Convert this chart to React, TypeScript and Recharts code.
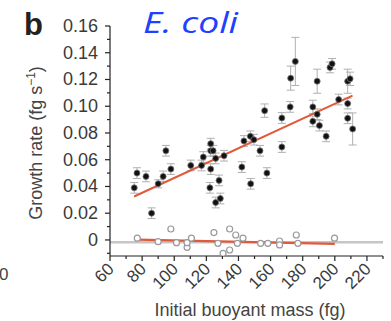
import React from "react";
import {
  ComposedChart,
  Scatter,
  Line,
  XAxis,
  YAxis,
  ErrorBar,
  ReferenceLine,
} from "recharts";

// E. coli growth rate vs initial buoyant mass
const cellMass = [
  75.1, 76.8, 82.4, 85.9, 90.0, 93.1, 94.8, 97.9, 110.3, 117.0, 118.1, 122.2,
  122.7, 122.7, 124.2, 122.7, 125.8, 131.0, 127.9, 125.8, 128.7, 142.1, 143.4,
  147.4, 149.6, 147.6, 153.4, 157.7, 167.0, 156.3, 167.0, 172.2, 172.5, 175.4,
  186.3, 186.3, 189.0, 189.0, 190.4, 194.6, 197.0, 198.3, 202.4, 208.0, 209.5,
  208.0, 208.0, 211.1,
];
const cellRate = [
  0.039, 0.05, 0.0475, 0.02, 0.042, 0.0475, 0.0667, 0.053, 0.0557, 0.0557,
  0.062, 0.039, 0.072, 0.0667, 0.0667, 0.053, 0.061, 0.063, 0.0445, 0.028,
  0.031, 0.0545, 0.074, 0.0775, 0.075, 0.042, 0.0667, 0.05, 0.0695, 0.0967,
  0.0912, 0.0995, 0.121, 0.1335, 0.0995, 0.0887, 0.094, 0.1187, 0.0855, 0.0775,
  0.129, 0.1317, 0.105, 0.1187, 0.1205, 0.102, 0.091, 0.083,
];
const cellErr = [
  0.004, 0.004, 0.004, 0.004, 0.003, 0.004, 0.004, 0.004, 0.004, 0.004, 0.004,
  0.004, 0.004, 0.004, 0.004, 0.004, 0.004, 0.004, 0.004, 0.004, 0.004, 0.004,
  0.004, 0.004, 0.004, 0.004, 0.004, 0.004, 0.004, 0.005, 0.004, 0.004, 0.009,
  0.018, 0.005, 0.004, 0.004, 0.009, 0.004, 0.004, 0.004, 0.004, 0.004, 0.009,
  0.005, 0.004, 0.004, 0.012,
];

// fixed cells (control)
const ctrlMass = [
  77, 90, 97.9, 101.4, 108, 108, 110.7, 124.7, 127.2, 130.4, 134.5, 134.5,
  138.3, 139.3, 142.8, 153.8, 158.3, 165.6, 165.6, 176, 177, 199.8,
];
const ctrlRate = [
  0.0013, -0.0013, 0.0082, -0.002, -0.0055, -0.002, 0.0013, 0.0055, -0.0025,
  -0.01, -0.0075, 0.0082, 0.0037, -0.0025, 0.0013, -0.0025, -0.0025, -0.0008,
  -0.0037, 0.0037, -0.0025, 0.0013,
];

const fitMass = [75, 211];
const fitRate = [0.0325, 0.108];
const ctrlFitMass = [77, 200];
const ctrlFitRate = [0.0003, -0.003];

const xTicks = [60, 70, 80, 90, 100, 110, 120, 130, 140, 150, 160, 170, 180, 190, 200, 210, 220, 230];
const yTicks = [-0.01, 0, 0.01, 0.02, 0.03, 0.04, 0.05, 0.06, 0.07, 0.08, 0.09, 0.1, 0.11, 0.12, 0.13, 0.14, 0.15, 0.16];

const cells = cellMass.map((m, i) => ({ mass: m, rate: cellRate[i], err: cellErr[i] }));
const ctrl = ctrlMass.map((m, i) => ({ mass: m, rate: ctrlRate[i] }));
const fit = fitMass.map((m, i) => ({ mass: m, rate: fitRate[i] }));
const ctrlFit = ctrlFitMass.map((m, i) => ({ mass: m, rate: ctrlFitRate[i] }));

const font = "'Liberation Sans', Arial, sans-serif";
const tickColor = "#3a3a3a";

const XTick = (props: any) => {
  const { x, y, payload } = props;
  const v = payload.value;
  const major = v % 20 === 0 && v <= 220;
  return (
    <g>
      <line x1={x} x2={x} y1={y} y2={y + (major ? 5 : 3)} stroke="#222" strokeWidth={1.2} />
      {major && (
        <text
          x={x + 5}
          y={y + 14}
          transform={`rotate(-45, ${x + 5}, ${y + 14})`}
          textAnchor="end"
          fontSize={17}
          fontFamily={font}
          fill={tickColor}
        >
          {v}
        </text>
      )}
    </g>
  );
};

const YTick = (props: any) => {
  const { x, y, payload } = props;
  const v = payload.value;
  const k = Math.round(v * 100);
  const major = k >= 0 && k % 2 === 0;
  return (
    <g>
      <line x1={x - (major ? 5 : 3)} x2={x} y1={y} y2={y} stroke="#222" strokeWidth={1.2} />
      {major && (
        <text
          x={x - 12}
          y={y + 6}
          textAnchor="end"
          fontSize={18}
          fontFamily={font}
          fill={tickColor}
        >
          {k === 0 ? "0" : v.toFixed(2)}
        </text>
      )}
    </g>
  );
};

const Dot = (props: any) => {
  const { cx, cy } = props;
  return <circle cx={cx} cy={cy} r={3} fill="#111" stroke="#777" strokeWidth={0.8} />;
};

const Ring = (props: any) => {
  const { cx, cy } = props;
  return <circle cx={cx} cy={cy} r={3} fill="#fff" stroke="#9a9a9a" strokeWidth={1.2} />;
};

export default function App() {
  return (
    <div style={{ position: "absolute", left: 0, top: 0, width: 391, height: 321, background: "#fff" }}>
      <ComposedChart
        width={391}
        height={321}
        margin={{ top: 26, right: 8, left: 0, bottom: 0 }}
      >
        <XAxis
          type="number"
          dataKey="mass"
          domain={[60, 230]}
          ticks={xTicks}
          interval={0}
          tickLine={false}
          tickSize={0}
          tickMargin={0}
          tick={<XTick />}
          axisLine={{ stroke: "#222", strokeWidth: 1.2 }}
          height={65}
          allowDataOverflow
        />
        <YAxis
          type="number"
          dataKey="rate"
          domain={[-0.012, 0.16]}
          ticks={yTicks}
          interval={0}
          tickLine={false}
          tickSize={0}
          tickMargin={0}
          tick={<YTick />}
          axisLine={{ stroke: "#222", strokeWidth: 1.2 }}
          width={110}
          allowDataOverflow
        />
        <ReferenceLine y={-0.0018} stroke="#c6c6c6" strokeWidth={2.5} />
        <Scatter data={ctrl} dataKey="rate" shape={<Ring />} isAnimationActive={false} />
        <Line
          data={ctrlFit}
          dataKey="rate"
          stroke="#e05a3a"
          strokeWidth={2.2}
          dot={false}
          isAnimationActive={false}
        />
        <Scatter data={cells} dataKey="rate" shape={<Dot />} isAnimationActive={false}>
          <ErrorBar dataKey="err" direction="y" width={4} stroke="#b0b0b0" strokeWidth={1} />
        </Scatter>
        <Line
          data={fit}
          dataKey="rate"
          stroke="#e05a3a"
          strokeWidth={2}
          dot={false}
          isAnimationActive={false}
        />
        <text x={24} y={35} fontSize={31} fontWeight="bold" fontFamily={font} fill="#222">
          b
        </text>
        <text
          x={143}
          y={33}
          fontSize={29}
          fontStyle="italic"
          fontFamily="'Open Sans', 'Liberation Sans', sans-serif"
          fill="#1f40ff"
          textLength={95}
          lengthAdjust="spacingAndGlyphs"
        >
          E. coli
        </text>
        <text
          x={42}
          y={143}
          transform="rotate(-90, 42, 143)"
          textAnchor="middle"
          fontSize={18}
          fontFamily={font}
          fill="#444"
        >
          Growth rate (fg s
          <tspan dy={-7} fontSize={12}>−1</tspan>
          <tspan dy={7}>)</tspan>
        </text>
        <text x={250} y={316} textAnchor="middle" fontSize={18} fontFamily={font} fill="#444">
          Initial buoyant mass (fg)
        </text>
        <text x={-1} y={280} fontSize={17} fontFamily={font} fill="#444">
          0
        </text>
      </ComposedChart>
    </div>
  );
}
